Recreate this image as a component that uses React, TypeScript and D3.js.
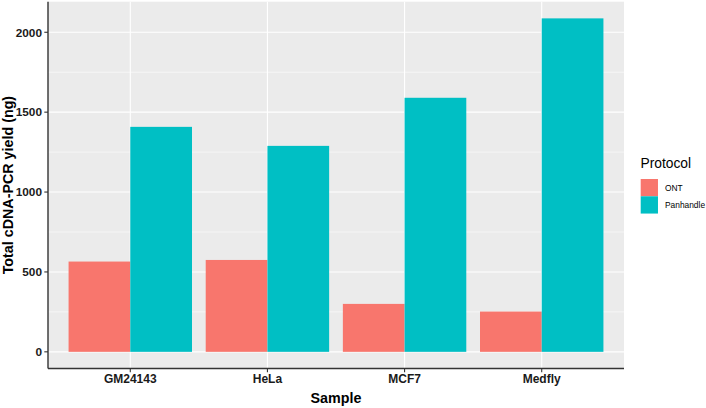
import React from "react";
import * as d3 from "d3";

const samples = ["GM24143", "HeLa", "MCF7", "Medfly"];
const protocols = ["ONT", "Panhandle"];
const ontValues = [565, 575, 300, 252];
const panhandleValues = [1408, 1289, 1590, 2087];
const yTicks = [0, 500, 1000, 1500, 2000];
const yMinor = [250, 750, 1250, 1750];
const colors = ["#F8766D", "#00BFC4"];

const W = 706;
const H = 408;
const panel = { left: 48, right: 624, top: 1.7, bottom: 368.5 };

export default function App() {
  const seriesValues = [ontValues, panhandleValues];
  const maxV = d3.max(panhandleValues.concat(ontValues)) as number;
  const y = d3
    .scaleLinear()
    .domain([-0.05 * maxV, 1.05 * maxV])
    .range([panel.bottom, panel.top]);
  const x = d3
    .scaleBand<string>()
    .domain(samples)
    .range([panel.left, panel.right])
    .paddingInner(0.1)
    .paddingOuter(0.15);
  const xInner = d3
    .scaleBand<string>()
    .domain(protocols)
    .range([0, x.bandwidth()])
    .padding(0);
  const font = "'Liberation Sans', Arial, Helvetica, sans-serif";
  const cx = (s: string) => (x(s) as number) + x.bandwidth() / 2;

  return (
    <svg
      width={W}
      height={H}
      style={{ position: "absolute", left: 0, top: 0, background: "#fff" }}
      fontFamily={font}
    >
      <rect
        x={panel.left}
        y={panel.top}
        width={panel.right - panel.left}
        height={panel.bottom - panel.top}
        fill="#EBEBEB"
      />
      {yMinor.map((t) => (
        <line
          key={"mi" + t}
          x1={panel.left}
          x2={panel.right}
          y1={y(t)}
          y2={y(t)}
          stroke="#fff"
          strokeWidth={0.55}
        />
      ))}
      {yTicks.map((t) => (
        <line
          key={"ma" + t}
          x1={panel.left}
          x2={panel.right}
          y1={y(t)}
          y2={y(t)}
          stroke="#fff"
          strokeWidth={1.1}
        />
      ))}
      {samples.map((s) => (
        <line
          key={"vx" + s}
          x1={cx(s)}
          x2={cx(s)}
          y1={panel.top}
          y2={panel.bottom}
          stroke="#fff"
          strokeWidth={1.1}
        />
      ))}
      {samples.map((s, i) =>
        protocols.map((p, j) => {
          const v = seriesValues[j][i];
          return (
            <rect
              key={s + p}
              x={(x(s) as number) + (xInner(p) as number)}
              width={xInner.bandwidth()}
              y={y(v)}
              height={y(0) - y(v)}
              fill={colors[j]}
            />
          );
        })
      )}
      {/* axes */}
      <line
        x1={panel.left}
        x2={panel.left}
        y1={panel.top}
        y2={panel.bottom}
        stroke="#333"
        strokeWidth={1.4}
      />
      <line
        x1={panel.left}
        x2={panel.right}
        y1={panel.bottom}
        y2={panel.bottom}
        stroke="#333"
        strokeWidth={1.4}
      />
      {yTicks.map((t) => (
        <g key={"yt" + t}>
          <line
            x1={panel.left - 3.7}
            x2={panel.left}
            y1={y(t)}
            y2={y(t)}
            stroke="#333"
            strokeWidth={1.1}
          />
          <text
            x={panel.left - 6}
            y={y(t)}
            dy="0.36em"
            textAnchor="end"
            fontSize={11.8}
            fontWeight="bold"
            fill="#1a1a1a"
          >
            {t}
          </text>
        </g>
      ))}
      {samples.map((s) => (
        <g key={"xt" + s}>
          <line
            x1={cx(s)}
            x2={cx(s)}
            y1={panel.bottom}
            y2={panel.bottom + 3.7}
            stroke="#333"
            strokeWidth={1.1}
          />
          <text
            x={cx(s)}
            y={382.7}
            textAnchor="middle"
            fontSize={12}
            fontWeight="bold"
            fill="#1a1a1a"
          >
            {s}
          </text>
        </g>
      ))}
      <text
        x={(panel.left + panel.right) / 2}
        y={402.5}
        textAnchor="middle"
        fontSize={14.3}
        fontWeight="bold"
        fill="#000"
      >
        Sample
      </text>
      <text
        transform={`translate(13.3, ${(panel.top + panel.bottom) / 2}) rotate(-90)`}
        textAnchor="middle"
        fontSize={14.3}
        fontWeight="bold"
        fill="#000"
      >
        Total cDNA-PCR yield (ng)
      </text>
      {/* legend */}
      <text x={640.5} y={168} fontSize={13.8} fill="#000">
        Protocol
      </text>
      {protocols.map((p, j) => (
        <g key={"lg" + p}>
          <rect
            x={640.7}
            y={179 + j * 17.28}
            width={17.28}
            height={17.28}
            fill={colors[j]}
          />
          <text
            x={665}
            y={179 + j * 17.28 + 8.64}
            dy="0.35em"
            fontSize={8.4}
            fill="#000"
          >
            {p}
          </text>
        </g>
      ))}
    </svg>
  );
}
